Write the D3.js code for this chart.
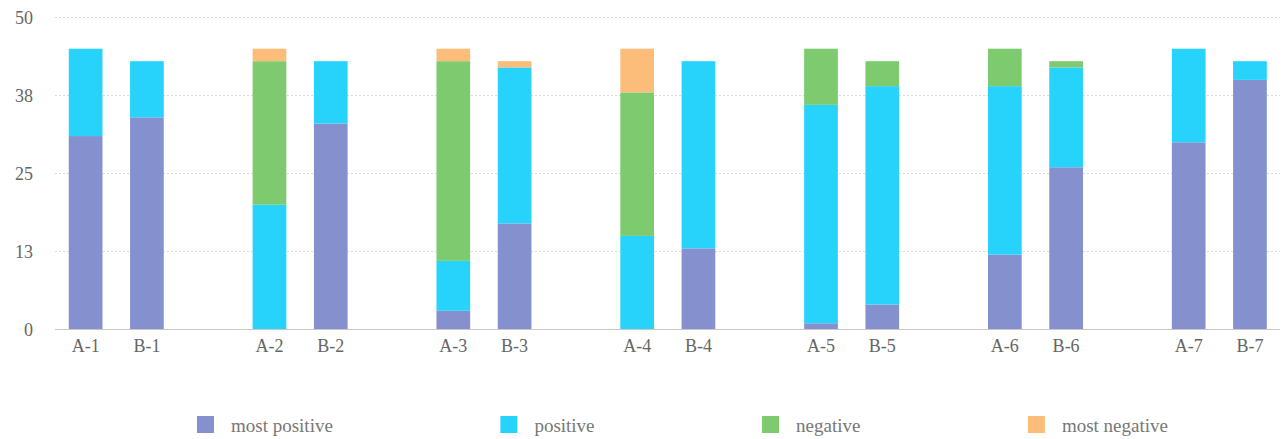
<!DOCTYPE html>
<html>
<head>
<meta charset="utf-8">
<script src="https://cdn.jsdelivr.net/npm/d3@7/dist/d3.min.js"></script>
<style>
  html, body { margin: 0; padding: 0; background: #ffffff; }
  svg { display: block; }
  text { font-family: "Liberation Serif", "DejaVu Serif", serif; }
</style>
</head>
<body>
<svg id="chart" width="1283" height="439"></svg>
<script>
// Survey responses per item (A = first survey, B = second survey)
const categories = ["A-1", "B-1", "A-2", "B-2", "A-3", "B-3", "A-4", "B-4",
                    "A-5", "B-5", "A-6", "B-6", "A-7", "B-7"];
const mostPositive = [31, 34, 0, 33, 3, 17, 0, 13, 1, 4, 12, 26, 30, 40];
const positive     = [14, 9, 20, 10, 8, 25, 15, 30, 35, 35, 27, 16, 15, 3];
const negative     = [0, 0, 23, 0, 32, 0, 23, 0, 9, 4, 6, 1, 0, 0];
const mostNegative = [0, 0, 2, 0, 2, 1, 7, 0, 0, 0, 0, 0, 0, 0];
const seriesNames  = ["most positive", "positive", "negative", "most negative"];
const yTicks       = [0, 12.5, 25, 37.5, 50];
const yTickLabels  = ["0", "13", "25", "38", "50"];

const colors = ["#8591cf", "#27d3fb", "#7eca6f", "#fcbd7b"];
const seriesValues = [mostPositive, positive, negative, mostNegative];

const svg = d3.select("#chart");

// Slots on the x axis: an empty slot separates each A/B pair
const slots = [];
categories.forEach((c, i) => {
  slots.push(c);
  if (i % 2 === 1 && i < categories.length - 1) slots.push("__gap" + i);
});

const x = d3.scaleBand()
  .domain(slots)
  .range([55, 1280.6])
  .paddingInner(0.45)
  .paddingOuter(0.225);

const y = d3.scaleLinear().domain([0, 50]).range([329.5, 17.5]);

// Horizontal grid lines
svg.append("g")
  .selectAll("line")
  .data(yTicks.filter(t => t > 0))
  .join("line")
  .attr("x1", 55).attr("x2", 1280)
  .attr("y1", d => y(d)).attr("y2", d => y(d))
  .attr("stroke", "#d9d9d9")
  .attr("stroke-width", 1)
  .attr("stroke-dasharray", "2,2");

// Y axis labels
const yAxis = d3.axisLeft(y)
  .tickValues(yTicks)
  .tickFormat((d, i) => yTickLabels[i])
  .tickSize(0)
  .tickPadding(22);
const gy = svg.append("g").attr("transform", "translate(55,0)").call(yAxis);
gy.select(".domain").remove();
gy.selectAll("text")
  .attr("fill", "#666")
  .style("font-size", "18px")
  .style("font-family", "'Liberation Serif', serif");

// Stacked bars
const rows = categories.map((c, i) => {
  const r = { cat: c };
  seriesNames.forEach((s, k) => { r[s] = seriesValues[k][i]; });
  return r;
});
const stack = d3.stack().keys(seriesNames)(rows);

svg.append("g")
  .selectAll("g")
  .data(stack)
  .join("g")
  .attr("fill", (d, k) => colors[k])
  .selectAll("rect")
  .data(d => d.filter(p => p[1] - p[0] > 0))
  .join("rect")
  .attr("x", d => x(d.data.cat))
  .attr("width", x.bandwidth())
  .attr("y", d => y(d[1]))
  .attr("height", d => y(d[0]) - y(d[1]));

// X axis
const xAxis = d3.axisBottom(x)
  .tickFormat(d => d.startsWith("__gap") ? "" : d)
  .tickSize(0)
  .tickPadding(10);
const gx = svg.append("g").attr("transform", "translate(0,329.5)").call(xAxis);
gx.select(".domain")
  .attr("stroke", "#c8c8c8")
  .attr("d", "M55,0H1280");
gx.selectAll("text")
  .attr("fill", "#666")
  .style("font-size", "18px")
  .style("font-family", "'Liberation Serif', serif");

// Legend
const legend = svg.append("g").attr("transform", "translate(197,416)");
let lx = 0;
seriesNames.forEach((name, k) => {
  const item = legend.append("g").attr("transform", `translate(${lx},0)`);
  item.append("rect")
    .attr("width", 17).attr("height", 17)
    .attr("fill", colors[k]);
  const t = item.append("text")
    .attr("x", 34).attr("y", 9)
    .attr("dy", "0.35em")
    .attr("fill", "#777")
    .style("font-size", "19px")
    .text(name);
  lx += 34 + t.node().getComputedTextLength() + 167.5;
});
</script>
</body>
</html>
